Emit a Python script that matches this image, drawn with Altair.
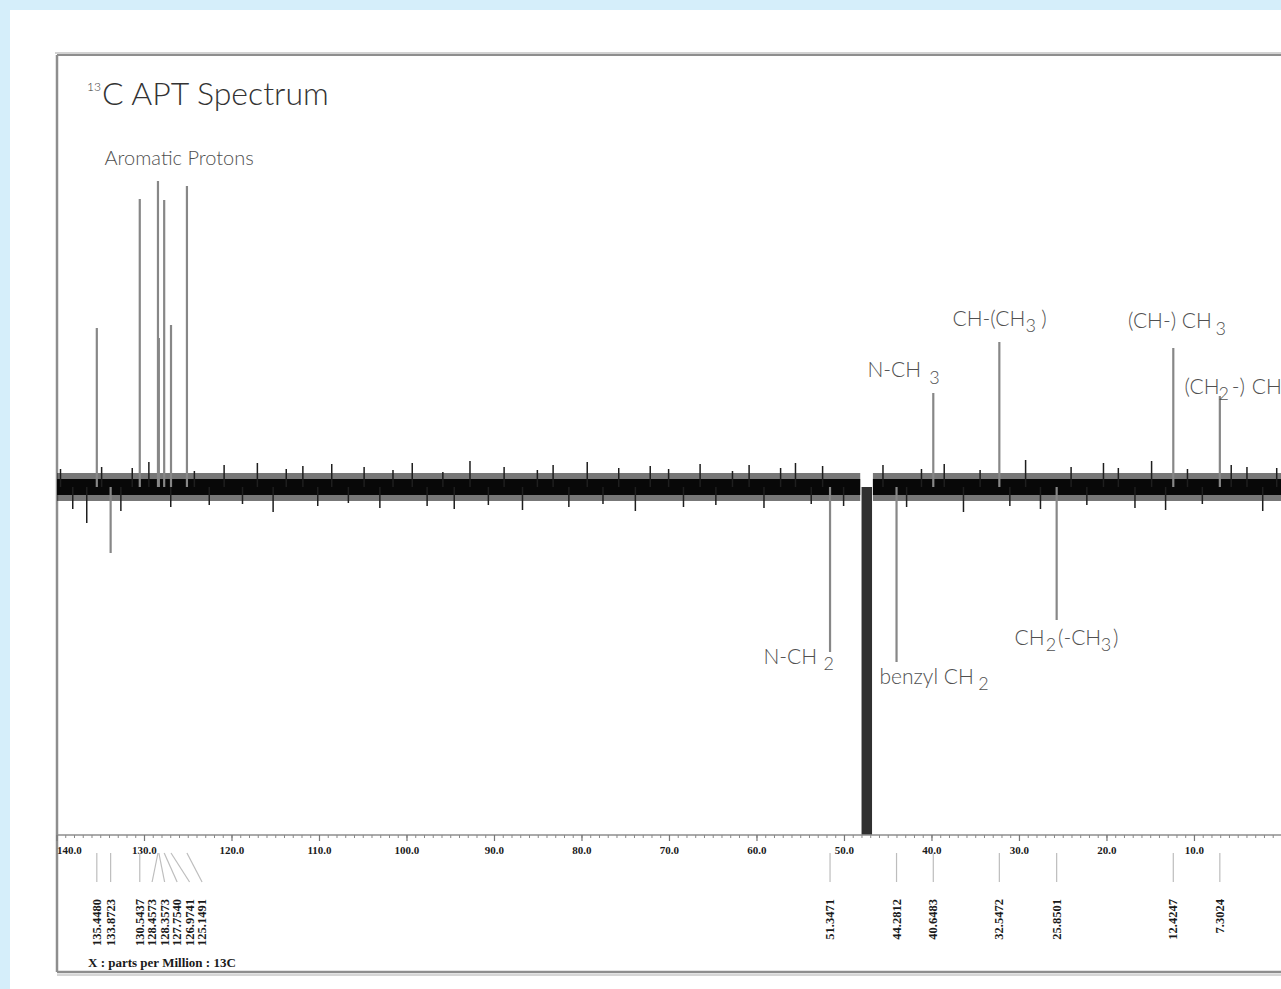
import altair as alt
import pandas as pd

# ---------------- data ----------------
# peak positions (ppm, as drawn), signed intensity (baseline = 0), peak-list text
peak_ppm = [135.45, 133.87, 130.54, 128.46, 128.36, 127.75, 126.97, 125.15,
            51.65, 44.05, 39.85, 32.30, 25.75, 12.42, 7.10]
peak_int = [159, -66, 288, 306, 149, 287, 162, 301,
            -165, -175, 94, 145, -133, 139, 91]
peak_label = ["135.4480", "133.8723", "130.5437", "128.4573", "128.3573", "127.7540",
              "126.9741", "125.1491", "51.3471", "44.2812", "40.6483", "32.5472",
              "25.8501", "12.4247", "7.3024"]
# where each peak-list label sits (ppm) – aromatic ones fan out
label_ppm = [135.45, 133.87, 130.54, 129.13, 127.70, 126.27, 124.85, 123.42,
             51.65, 44.05, 39.85, 32.30, 25.75, 12.42, 7.10]

# solvent (large negative multiplet)
solvent_start = [48.05]
solvent_end = [46.85]
solvent_depth = [-420]

# baseline noise band segments (ppm) and envelope
band_start = [140.0, 46.75]
band_end = [48.20, 0.11]
band_core = [8]
band_fringe = [14]

# visible noise spikes
spike_ppm = [139.6, 138.2, 136.6, 134.9, 132.7, 131.4, 129.5, 127.0, 124.3, 122.6,
             120.9, 118.8, 117.1, 115.3, 113.8, 111.9, 110.2, 108.6, 106.7, 104.9,
             103.1, 101.6, 99.4, 97.7, 95.9, 94.6, 92.8, 90.7, 88.9, 86.8,
             85.1, 83.3, 81.5, 79.4, 77.6, 75.8, 73.9, 72.2, 70.1, 68.4,
             66.5, 64.7, 62.8, 60.9, 59.2, 57.3, 55.6, 53.8, 52.5, 50.1,
             45.6, 42.9, 41.2, 38.6, 36.4, 34.5, 31.1, 29.3, 27.6, 24.1,
             22.3, 20.4, 18.7, 16.8, 14.9, 13.3, 10.8, 9.1, 5.8, 4.0,
             2.2, 0.6]
spike_val = [18, -22, -36, 20, -24, 19, 25, -20, 16, -18,
             22, -17, 24, -25, 18, 21, -19, 23, -16, 20,
             -21, 17, 24, -19, 15, -22, 26, -18, 20, -23,
             17, 22, -20, 25, -17, 19, -24, 21, 18, -20,
             23, -18, 16, 22, -21, 19, 24, -17, 21, -19,
             22, -20, 18, 23, -25, 17, -19, 27, -22, 20,
             -18, 24, 19, -21, 26, -23, 18, -17, 22, 20,
             -24, 19]

axis_values = [140, 130, 120, 110, 100, 90, 80, 70, 60, 50, 40, 30, 20, 10]
axis_labels = ["140.0", "130.0", "120.0", "110.0", "100.0", "90.0", "80.0",
               "70.0", "60.0", "50.0", "40.0", "30.0", "20.0", "10.0"]
minor_ticks = [float(v) for v in range(1, 140)]

# group annotations: text fragments anchored at (ppm, intensity)
ann_text = ["Aromatic Protons",
            "N-CH", "2", "benzyl CH", "2",
            "N-CH", "3",
            "CH-(CH", "3", ")",
            "(CH-) CH", "3",
            "(CH", "2", "-)", "CH",
            "CH", "2", "(-CH", "3", ")"]
ann_ppm = [134.57,
           59.26, 52.40, 46.0, 34.70,
           47.37, 40.30,
           37.66, 29.30, 27.50,
           17.60, 7.60,
           11.14, 7.25, 5.75, 3.45,
           30.57, 27.00, 25.60, 20.70, 19.30]
ann_int = [322,
           -177, -183, -197, -203,
           110, 103,
           161, 155, 161,
           159, 152,
           93, 87, 93, 93,
           -158, -164, -158, -164, -158]
ann_size = [20,
            21, 18, 21, 18,
            21, 18,
            21, 18, 21,
            21, 18,
            21, 18, 21, 21,
            21, 18, 21, 18, 21]

# ---------------- chart ----------------
XS = alt.Scale(domain=[0.11, 140], reverse=True, nice=False, zero=False)
YS = alt.Scale(domain=[-348, 432], nice=False, zero=False)
one = alt.Data(values=[{"a": 1}])

peaks = pd.DataFrame({"ppm": peak_ppm, "inten": peak_int, "label": peak_label,
                      "lppm": label_ppm, "zero": [0] * len(peak_ppm)})
spikes = pd.DataFrame({"ppm": spike_ppm, "val": spike_val, "zero": [0] * len(spike_ppm)})
band = pd.DataFrame({"ppm": band_start, "ppm2": band_end,
                     "lo": [-band_core[0]] * 2, "hi": [band_core[0]] * 2,
                     "flo": [-band_fringe[0]] * 2, "fhi": [band_fringe[0]] * 2})
solvent = pd.DataFrame({"ppm": solvent_start, "ppm2": solvent_end,
                        "top": [0], "bot": solvent_depth})
ticks = pd.DataFrame({"ppm": minor_ticks})
majors = pd.DataFrame({"ppm": axis_values, "lab": axis_labels})
ann = pd.DataFrame({"text": ann_text, "ppm": ann_ppm, "inten": ann_int, "size": ann_size})


def X(f):
    return alt.X(f"{f}:Q", scale=XS, axis=None)


def Y(f):
    return alt.Y(f"{f}:Q", scale=YS, axis=None)


GRAY = "#8e8e8e"

panel = alt.Chart(one).mark_rect(color="white").encode(
    x=alt.value(-47), x2=alt.value(1300), y=alt.value(-45), y2=alt.value(1000))

frame_shadow_top = alt.Chart(one).mark_rule(color="#d2d2d2", strokeWidth=2).encode(
    x=alt.value(-2), x2=alt.value(1300), y=alt.value(-2))
frame_top = alt.Chart(one).mark_rule(color=GRAY, strokeWidth=2).encode(
    x=alt.value(0), x2=alt.value(1300), y=alt.value(0))
frame_left = alt.Chart(one).mark_rule(color=GRAY, strokeWidth=2.5).encode(
    x=alt.value(0), y=alt.value(0), y2=alt.value(917))
frame_bottom = alt.Chart(one).mark_rule(color=GRAY, strokeWidth=2.5).encode(
    x=alt.value(0), x2=alt.value(1300), y=alt.value(917))
frame_shadow_bottom = alt.Chart(one).mark_rule(color="#d6d6d6", strokeWidth=2).encode(
    x=alt.value(0), x2=alt.value(1300), y=alt.value(920))

fringe = alt.Chart(band).mark_rect(color="#1c1c1c", opacity=0.6).encode(
    x=X("ppm"), x2="ppm2", y=Y("flo"), y2="fhi")
core = alt.Chart(band).mark_rect(color="#080808").encode(
    x=X("ppm"), x2="ppm2", y=Y("lo"), y2="hi")
spike_layer = alt.Chart(spikes).mark_rule(color="#1e1e1e", strokeWidth=1.5).encode(
    x=X("ppm"), y=Y("zero"), y2="val")

solvent_layer = alt.Chart(solvent).mark_rect(color="#303030", clip=True).encode(
    x=X("ppm"), x2="ppm2", y=Y("top"), y2="bot")

peak_layer = alt.Chart(peaks).mark_rule(color="#878787", strokeWidth=2.2).encode(
    x=X("ppm"), y=Y("zero"), y2="inten")

axis_line = alt.Chart(one).mark_rule(color=GRAY, strokeWidth=1.5).encode(
    x=alt.value(0), x2=alt.value(1300), y=alt.value(780))
minor = alt.Chart(ticks).mark_rule(color="#888888", strokeWidth=1).encode(
    x=X("ppm"), y=alt.value(780), y2=alt.value(783))
major = alt.Chart(majors).mark_rule(color="#777777", strokeWidth=1.2).encode(
    x=X("ppm"), y=alt.value(780), y2=alt.value(786))
major_text_first = alt.Chart(majors.iloc[:1]).mark_text(
    font="Liberation Serif", fontWeight="bold", fontSize=11, align="left",
    baseline="middle", color="#1a1a1a").encode(
    x=X("ppm"), y=alt.value(796), text="lab:N")
major_text = alt.Chart(majors.iloc[1:]).mark_text(
    font="Liberation Serif", fontWeight="bold", fontSize=11, align="center",
    baseline="middle", color="#1a1a1a").encode(
    x=X("ppm"), y=alt.value(796), text="lab:N")

connectors = alt.Chart(peaks).mark_rule(color="#bdbdbd", strokeWidth=1.2).encode(
    x=X("ppm"), x2="lppm", y=alt.value(798), y2=alt.value(827))

list_text = alt.Chart(peaks).mark_text(
    font="Liberation Serif", fontWeight="bold", fontSize=12.5, angle=270,
    align="right", baseline="middle", color="#1a1a1a").encode(
    x=X("lppm"), y=alt.value(844), text="label:N")

ann_layer = alt.Chart(ann).mark_text(
    font="Lato", fontWeight=300, align="left", baseline="alphabetic",
    color="#505050").encode(
    x=X("ppm"), y=Y("inten"), text="text:N",
    size=alt.Size("size:Q", scale=None, legend=None))

title_sup = alt.Chart(one).mark_text(
    text="13", font="Lato", fontWeight=300, fontSize=12, align="left",
    baseline="alphabetic", color="#333333").encode(x=alt.value(30), y=alt.value(36))
title_main = alt.Chart(one).mark_text(
    text="C APT Spectrum", font="Lato", fontWeight=300, fontSize=32, align="left",
    baseline="alphabetic", color="#333333").encode(x=alt.value(45), y=alt.value(50))
x_caption = alt.Chart(one).mark_text(
    text="X : parts per Million : 13C", font="Liberation Serif", fontWeight="bold",
    fontSize=13, align="left", baseline="middle", color="#1a1a1a").encode(
    x=alt.value(31), y=alt.value(908))

chart = alt.layer(
    panel, frame_shadow_top, frame_top, frame_left, frame_shadow_bottom, frame_bottom,
    fringe, core, spike_layer, solvent_layer, peak_layer,
    axis_line, minor, major, major_text_first, major_text, connectors,
    list_text, ann_layer, title_sup, title_main, x_caption
).properties(
    width=1224, height=780,
    padding={"left": 57, "top": 55, "right": 0, "bottom": 154},
    autosize=alt.AutoSizeParams(type="none"),
    background="#D5EEFA"
).configure_view(stroke=None)

chart.save("out.html", embed_options={"renderer": "svg", "actions": False})
